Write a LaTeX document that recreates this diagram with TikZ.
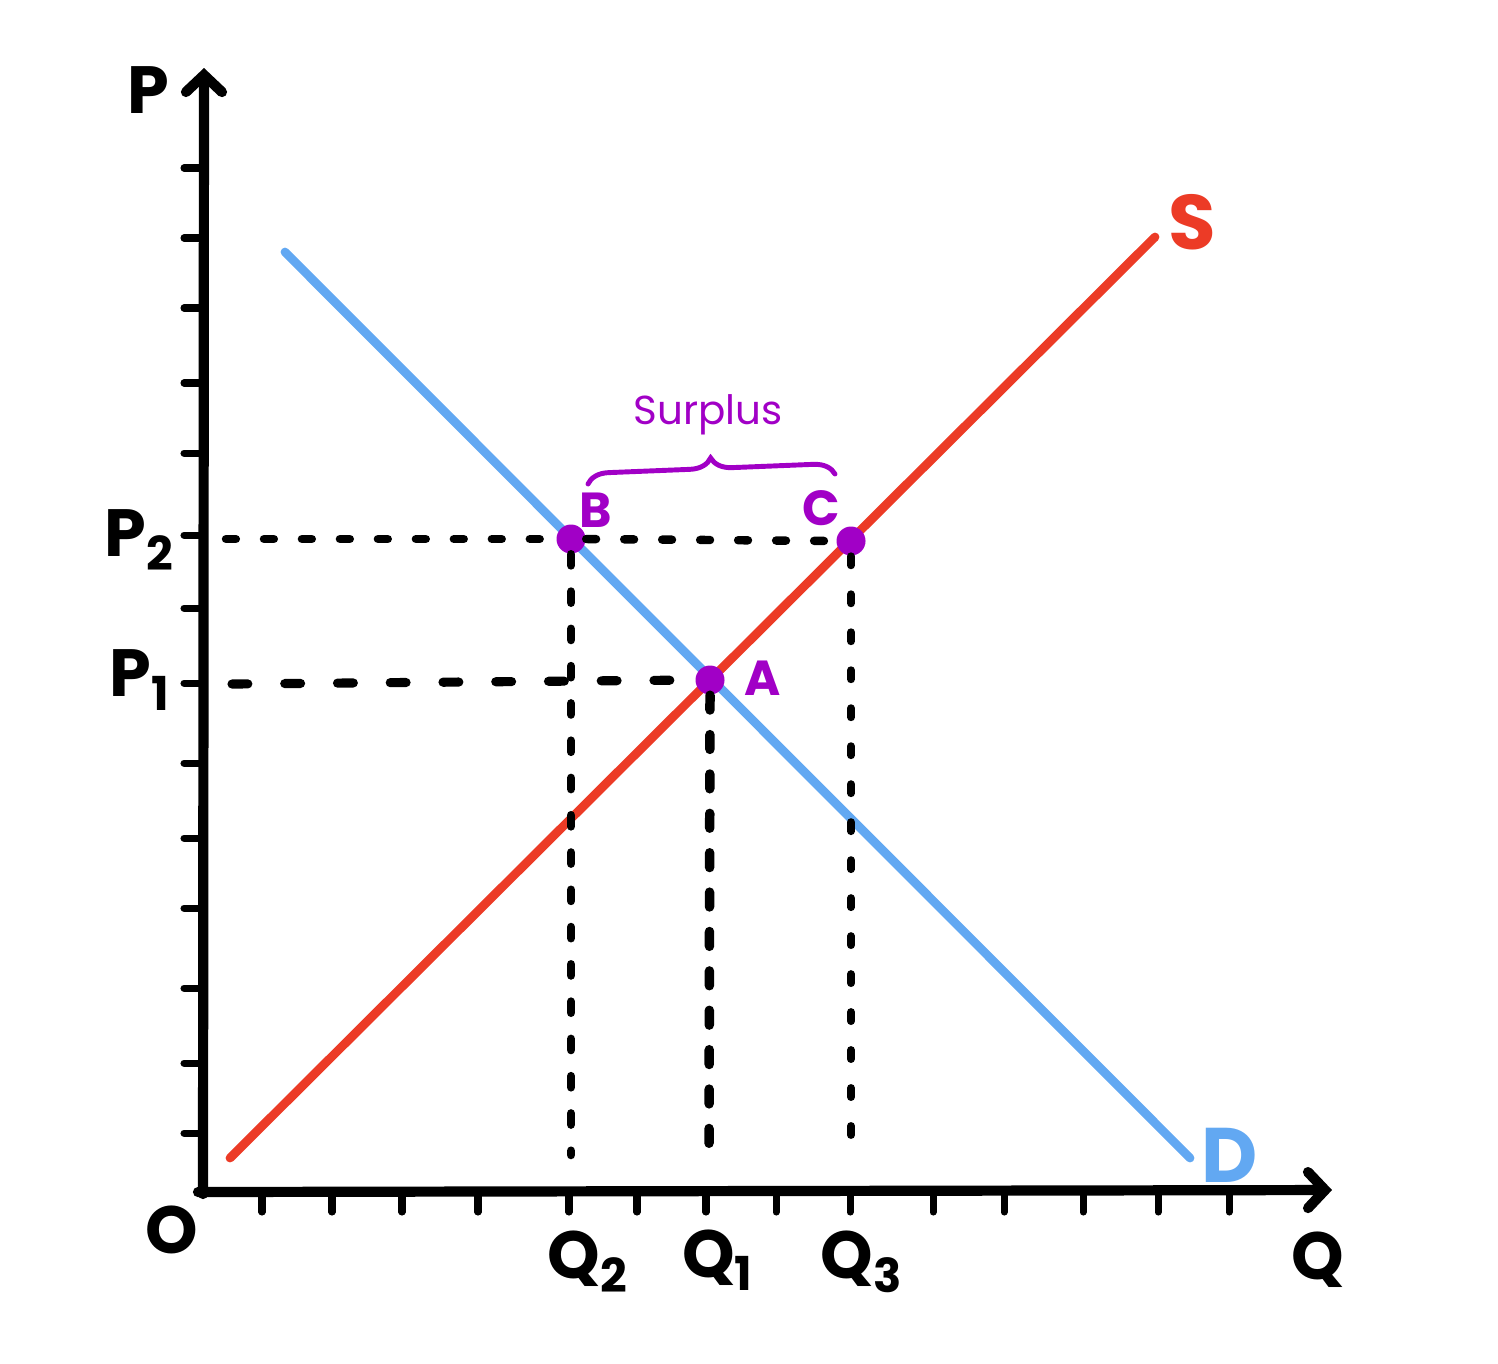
\documentclass[tikz,border=0pt]{standalone}
\usepackage{fontspec}
\setmainfont{Poppins}
\usetikzlibrary{arrows.meta, decorations.pathreplacing}
\definecolor{supplyred}{HTML}{EC3B26}
\definecolor{demandblue}{HTML}{62A8F2}
\definecolor{ptpurple}{HTML}{A100C6}

\begin{document}
\begin{tikzpicture}[x=0.01cm, y=-0.01cm, line cap=round,
  every node/.style={font=\fontsize{19}{21}\selectfont\bfseries},
  axis/.style={line width=2.9pt, -{Straight Barb[length=1.7mm, width=3.6mm, line cap=round]}},
  tickmark/.style={line width=2pt},
  curve/.style={line width=2.5pt},
  guide/.style={line width=2.4pt, dash pattern=on 2.8pt off 8pt},
  pt/.style={circle, fill=ptpurple, inner sep=0pt, minimum size=0.29cm},
  ptlabel/.style={text=ptpurple, font=\fontsize{14}{16}\selectfont\bfseries}]
  \useasboundingbox (0,0) rectangle (1498,1363);

  % axes
  \coordinate (O) at (203,1192);
  \coordinate (Ptop) at (204,68);
  \coordinate (Qend) at (1332,1190);
  \draw[axis] (203,1194) -- (Ptop);
  \draw[axis] (198,1192) -- (Qend);
  \foreach \y in {168,238,308,383,453,535,608,683,763,838,908,988,1063,1133}
    \draw[tickmark] (184,\y) -- (203,\y);
  \foreach \x in {262,332,402,478,569,637,706,776,850,933,1004,1083,1158,1229}
    \draw[tickmark] (\x,1194) -- (\x,1212);

  % curves
  \coordinate (S0) at (230,1158);
  \coordinate (S1) at (1155,237);
  \coordinate (D0) at (285,252);
  \coordinate (D1) at (1190,1158);
  \draw[curve, demandblue] (D0) -- (D1);
  \draw[curve, supplyred] (S0) -- (S1);

  % points
  \node[pt] (A) at (710,680) {};
  \node[pt] (B) at (571,539) {};
  \node[pt] (C) at (851,541) {};

  % guide lines
  \coordinate (P2left) at (226,539);
  \coordinate (P1left) at (232,684);
  \coordinate (Q2low) at (571,1155);
  \coordinate (Q1low) at (709,1152);
  \coordinate (Q3low) at (851,1153);
  \draw[guide] (P2left) -- (B.west);
  \draw[guide] (B.east) -- (C.west);
  \draw[guide, line width=2.6pt, dash pattern=on 4.5pt off 10.5pt] (P1left) -- (A.west);
  \draw[guide, dash pattern=on 3.2pt off 7.4pt] (B.south) -- (Q2low);
  \draw[guide, line width=2.7pt, dash pattern=on 4.2pt off 7pt] (A.south) -- (Q1low);
  \draw[guide, line width=2.2pt, dash pattern=on 2.6pt off 8.2pt] (C.south) -- (Q3low);

  % surplus brace
  \coordinate (brL) at (588,484);
  \coordinate (brR) at (835,474);
  \draw[ptpurple, line width=1.4pt, decorate, decoration={brace, amplitude=6pt}] (brL) -- (brR);
  \node[text=ptpurple, font=\fontsize{11.5}{13}\selectfont] (surplus) at (708,415) {Surplus};

  % labels
  \node[ptlabel] (Alab) at (763,678) {A};
  \node[ptlabel] (Blab) at (596,510) {B};
  \node[ptlabel] (Clab) at (821,508) {C};
  \node[text=supplyred, font=\fontsize{22}{24}\selectfont\bfseries] (Slab) at (1192,222) {S};
  \node[text=demandblue, font=\fontsize{22}{24}\selectfont\bfseries] (Dlab) at (1230,1155) {D};
  \node (Plab) at (148,90) {P};
  \node (Qlab) at (1318,1260) {Q};
  \node (Olab) at (172,1230) {O};
  \node (P2lab) at (140,540) {P\textsubscript{2}};
  \node (P1lab) at (140,680) {P\textsubscript{1}};
  \node (Q2lab) at (588,1262) {Q\textsubscript{2}};
  \node (Q1lab) at (718,1260) {Q\textsubscript{1}};
  \node (Q3lab) at (862,1262) {Q\textsubscript{3}};
\end{tikzpicture}
\end{document}
